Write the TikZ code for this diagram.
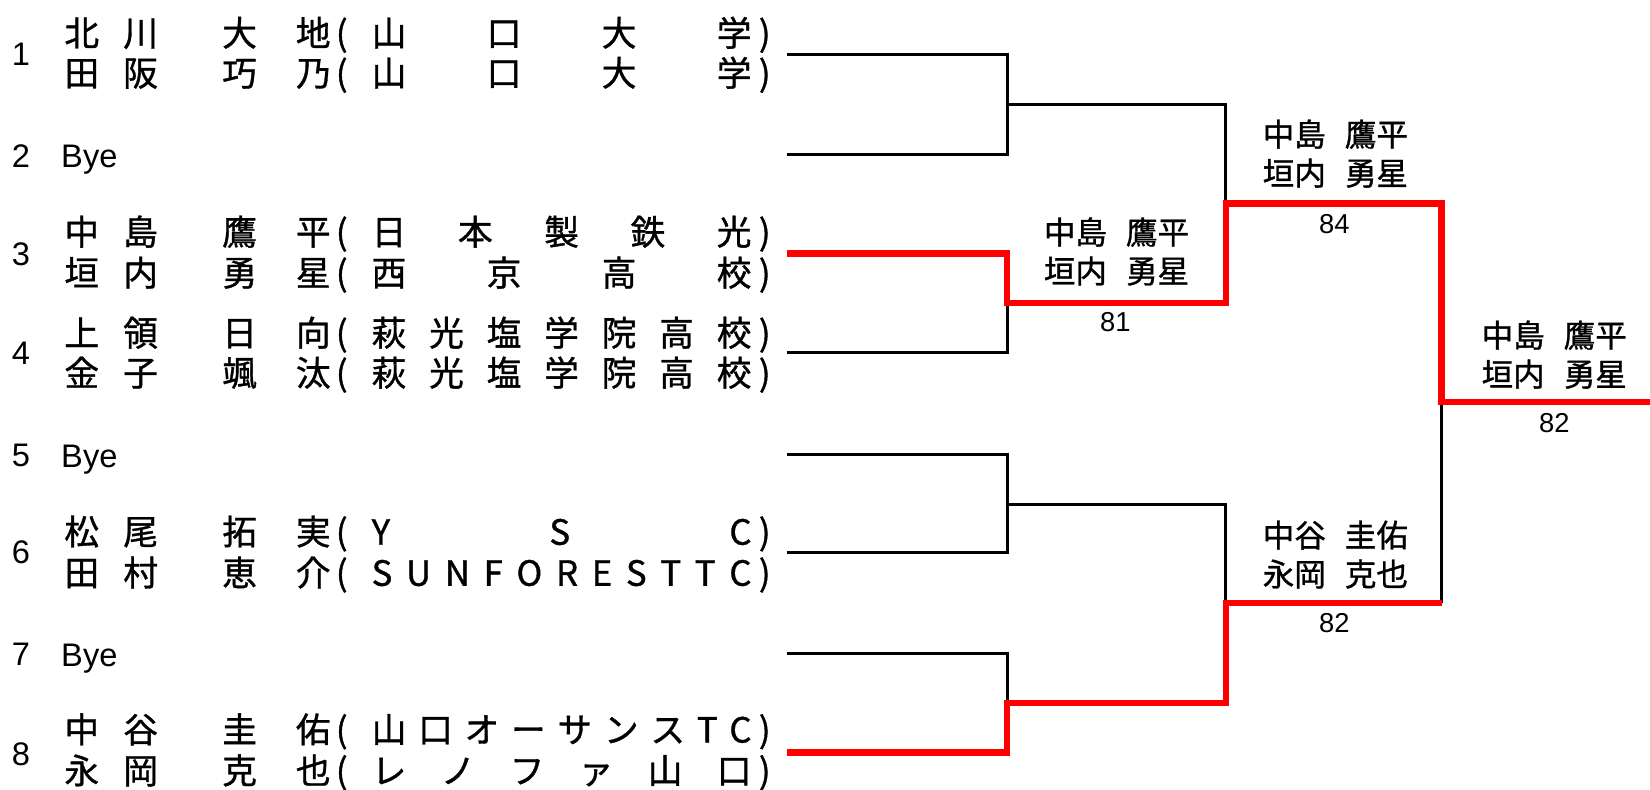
\documentclass[tikz,border=0pt]{standalone}
\usepackage{fontspec}
\setmainfont{Liberation Sans}
\newfontfamily\jp[FakeBold=1]{Noto Sans CJK JP}
\usetikzlibrary{positioning}

\makeatletter
\newcommand{\spreadtext}[1]{\@tfor\sp@tok:=#1\do{\sp@tok\hfill}\unskip}
\makeatother
\newcommand{\twoc}[2]{#1\hfill#2}
\newcommand{\entry}[3]{\makebox[89pt][s]{\twoc#1}\hspace{61pt}\makebox[103pt][s]{\twoc#2}\makebox[39pt][l]{\hspace{5pt}(}\makebox[361pt][s]{\spreadtext{#3}}\hspace{7pt})}
\newcommand{\wpair}[4]{#1\hspace{18pt}#2\\#3\hspace{18pt}#4}

\tikzset{
  bline/.style={line width=2.8pt,black},
  rline/.style={line width=6.5pt,red},
  pname/.style={anchor=west,inner sep=0pt,font=\jp\fontsize{33}{36}\selectfont},
  seed/.style={inner sep=0pt,font=\fontsize{31}{36}\selectfont},
  byetext/.style={anchor=base west,inner sep=0pt,font=\fontsize{31}{36}\selectfont},
  wname/.style={align=center,inner sep=0pt,font=\jp\fontsize{30}{37}\selectfont},
  score/.style={inner sep=0pt,font=\fontsize{26}{30}\selectfont},
}

\begin{document}
\begin{tikzpicture}[x=1pt,y=-1pt]
\useasboundingbox (0,0) rectangle (1568,750);
%%%%%%%%%%%%%%%%%%%%%%%%%%%%%%%%%
\node[seed] (n1) at (20,52) {1};
\node[pname] (a1) at (61,33) {\entry{北川}{大地}{山口大学}};
\node[pname] (b1) at (61,71) {\entry{田阪}{巧乃}{山口大学}};
\node[seed] (n2) at (20,148) {2};
\node[byetext] (bye2) at (58,159) {Bye};
\node[seed] (n3) at (20,242) {3};
\node[pname] (a3) at (61,222) {\entry{中島}{鷹平}{日本製鉄光}};
\node[pname] (b3) at (61,261) {\entry{垣内}{勇星}{西京高校}};
\node[seed] (n4) at (20,336) {4};
\node[pname] (a4) at (61,318) {\entry{上領}{日向}{萩光塩学院高校}};
\node[pname] (b4) at (61,356) {\entry{金子}{颯汰}{萩光塩学院高校}};
\node[seed] (n5) at (20,433) {5};
\node[byetext] (bye5) at (58,444) {Bye};
\node[seed] (n6) at (20,525) {6};
\node[pname] (a6) at (61,507) {\entry{松尾}{拓実}{YSC}};
\node[pname] (b6) at (61,546) {\entry{田村}{恵介}{SUNFORESTTC}};
\node[seed] (n7) at (20,622) {7};
\node[byetext] (bye7) at (58,633) {Bye};
\node[seed] (n8) at (20,717) {8};
\node[pname] (a8) at (61,695) {\entry{中谷}{圭佑}{山口オーサンスTC}};
\node[pname] (b8) at (61,734) {\entry{永岡}{克也}{レノファ山口}};
%%%%%%%%%%%%%%%%%%%%%%%%%%%%%%%%%
\coordinate (p1) at (748,52);
\coordinate (p2) at (748,147);
\coordinate (p3) at (748,241);
\coordinate (p4) at (748,335);
\coordinate (p5) at (748,432);
\coordinate (p6) at (748,525);
\coordinate (p7) at (748,621);
\coordinate (p8) at (748,715);
\coordinate (q12) at (957,99);
\coordinate (q34) at (957,288);
\coordinate (q56) at (957,479);
\coordinate (q78) at (957,668);
\coordinate (r14) at (1165,193);
\coordinate (r58) at (1165,573);
\coordinate (f) at (1370,382);
\coordinate (champ) at (1568,382);
%%%%%%%%%%%%%%%%%%%%%%%%%%%%%%%%%
\draw[bline] (p1) -| (q12) |- (p2);
\draw[bline] (q12) -| (r14);
\draw[bline] (q34) |- (p4);
\draw[bline] (p5) -| (q56) |- (p6);
\draw[bline] (q56) -| (r58);
\draw[bline] (p7) -| (q78);
\draw[bline] (f) -- (f |- r58);
\draw[rline] (p3) -| (q34) -| (r14) -| (f) -- (champ);
\draw[rline] (p8) -| (q78) -| (r58) -- (r58 -| f);
%%%%%%%%%%%%%%%%%%%%%%%%%%%%%%%%%
\node[wname] (w1) at (1061,239) {\wpair{中島}{鷹平}{垣内}{勇星}};
\node[score] (s1) at (1060,306) {81};
\node[wname] (w2) at (1269,146) {\wpair{中島}{鷹平}{垣内}{勇星}};
\node[score] (s2) at (1268,213) {84};
\node[wname] (w3) at (1269,527) {\wpair{中谷}{圭佑}{永岡}{克也}};
\node[score] (s3) at (1268,592) {82};
\node[wname] (w4) at (1477,337) {\wpair{中島}{鷹平}{垣内}{勇星}};
\node[score] (s4) at (1477,402) {82};
\end{tikzpicture}
\end{document}
